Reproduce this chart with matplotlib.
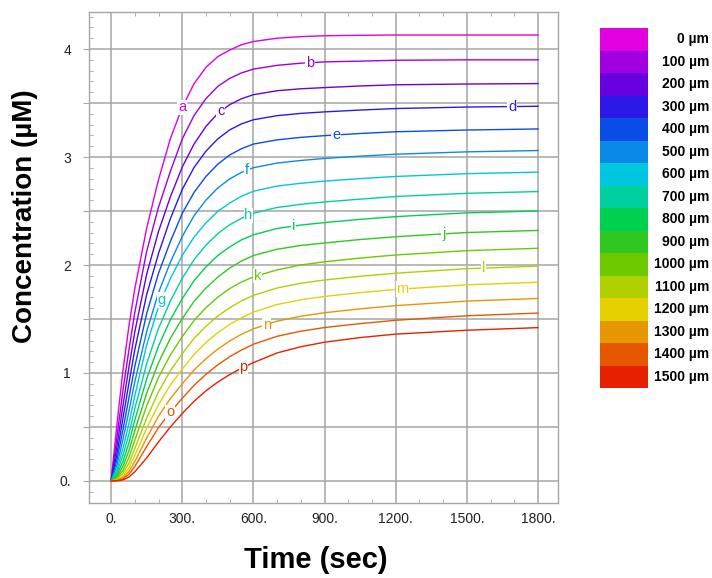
import numpy as np
import matplotlib
matplotlib.use("Agg")
import matplotlib.pyplot as plt
from matplotlib.ticker import MultipleLocator, FuncFormatter

plt.rcParams["font.family"] = ["Liberation Sans", "DejaVu Sans"]

# time points (sec)
t = [0, 25, 50, 75, 100, 150, 200, 250, 300, 350, 400, 450, 500, 550, 600,
     700, 800, 900, 1050, 1200, 1500, 1800]

# concentration (uM) at each depth
c_0    = [0, 0.53, 1.02, 1.43, 1.78, 2.34, 2.79, 3.17, 3.46, 3.68, 3.83, 3.93, 3.99, 4.04, 4.07,
          4.10, 4.115, 4.123, 4.127, 4.13, 4.13, 4.13]
c_100  = [0, 0.410, 0.839, 1.209, 1.560, 2.126, 2.535, 2.867, 3.167, 3.385, 3.541, 3.654, 3.728, 3.779, 3.814,
          3.849, 3.869, 3.881, 3.888, 3.896, 3.90, 3.90]
c_200  = [0, 0.324, 0.699, 1.049, 1.380, 1.914, 2.311, 2.631, 2.907, 3.121, 3.283, 3.404, 3.485, 3.540, 3.577,
          3.614, 3.632, 3.643, 3.658, 3.669, 3.676, 3.68]
c_300  = [0, 0.253, 0.579, 0.902, 1.215, 1.725, 2.106, 2.429, 2.700, 2.904, 3.054, 3.168, 3.251, 3.307, 3.345,
          3.383, 3.404, 3.418, 3.435, 3.449, 3.463, 3.47]
c_400  = [0, 0.196, 0.473, 0.766, 1.060, 1.549, 1.923, 2.217, 2.478, 2.673, 2.820, 2.934, 3.019, 3.077, 3.120,
          3.159, 3.182, 3.198, 3.218, 3.234, 3.250, 3.26]
c_500  = [0, 0.147, 0.383, 0.643, 0.918, 1.383, 1.744, 2.026, 2.264, 2.457, 2.601, 2.714, 2.797, 2.858, 2.901,
          2.944, 2.968, 2.987, 3.008, 3.026, 3.048, 3.06]
c_600  = [0, 0.109, 0.300, 0.529, 0.787, 1.258, 1.616, 1.873, 2.088, 2.259, 2.391, 2.497, 2.574, 2.637, 2.683,
          2.731, 2.757, 2.777, 2.800, 2.820, 2.846, 2.86]
c_700  = [0, 0.080, 0.236, 0.434, 0.670, 1.085, 1.412, 1.667, 1.876, 2.050, 2.184, 2.291, 2.372, 2.433, 2.479,
          2.533, 2.562, 2.584, 2.610, 2.634, 2.664, 2.68]
c_800  = [0, 0.058, 0.180, 0.350, 0.563, 0.945, 1.250, 1.493, 1.688, 1.855, 1.983, 2.088, 2.168, 2.233, 2.280,
          2.338, 2.370, 2.393, 2.423, 2.448, 2.483, 2.50]
c_900  = [0, 0.039, 0.135, 0.278, 0.464, 0.812, 1.095, 1.322, 1.503, 1.663, 1.786, 1.888, 1.972, 2.037, 2.088,
          2.146, 2.181, 2.204, 2.236, 2.262, 2.301, 2.32]
c_1000 = [0, 0.026, 0.097, 0.216, 0.377, 0.694, 0.959, 1.168, 1.336, 1.487, 1.605, 1.702, 1.782, 1.843, 1.890,
          1.955, 2.000, 2.030, 2.064, 2.093, 2.133, 2.155]
c_1100 = [0, 0.016, 0.070, 0.163, 0.299, 0.583, 0.826, 1.021, 1.178, 1.321, 1.433, 1.528, 1.604, 1.668, 1.719,
          1.787, 1.831, 1.861, 1.896, 1.924, 1.966, 1.99]
c_1200 = [0, 0.009, 0.048, 0.121, 0.236, 0.488, 0.708, 0.889, 1.036, 1.172, 1.282, 1.374, 1.450, 1.512, 1.564,
          1.634, 1.678, 1.709, 1.744, 1.774, 1.816, 1.84]
c_1300 = [0, 0.005, 0.030, 0.088, 0.179, 0.397, 0.600, 0.764, 0.899, 1.028, 1.132, 1.222, 1.296, 1.359, 1.409,
          1.480, 1.526, 1.558, 1.594, 1.624, 1.666, 1.69]
c_1400 = [0, 0.003, 0.019, 0.061, 0.134, 0.319, 0.494, 0.638, 0.765, 0.886, 0.987, 1.076, 1.151, 1.213, 1.266,
          1.340, 1.387, 1.421, 1.457, 1.488, 1.530, 1.555]
c_1500 = [0, 0.001, 0.010, 0.036, 0.085, 0.213, 0.362, 0.500, 0.625, 0.738, 0.835, 0.916, 0.985, 1.045, 1.096,
          1.186, 1.243, 1.285, 1.328, 1.360, 1.396, 1.42]

series = [c_0, c_100, c_200, c_300, c_400, c_500, c_600, c_700,
          c_800, c_900, c_1000, c_1100, c_1200, c_1300, c_1400, c_1500]
depths = [0, 100, 200, 300, 400, 500, 600, 700, 800, 900, 1000, 1100, 1200, 1300, 1400, 1500]
letters = list("abcdefghijklmnop")
# time at which each curve carries its letter
label_t = [300, 839, 462, 1691, 948, 572, 212, 579, 768, 1403, 617, 1569, 1229, 656, 249, 558]

colors = ["#e000e0", "#a000e0", "#6800e0", "#2c18e8", "#0a4ce6", "#0a8ae6",
          "#00c6e0", "#00d0a0", "#00d050", "#30c820", "#6ec800", "#b0d000",
          "#e6d000", "#e69600", "#e65800", "#e62000"]

fig = plt.figure(figsize=(7.12, 5.78), dpi=100)
ax = fig.add_axes([89 / 712, 1 - 503 / 578, 469 / 712, 491 / 578])

for y, col, lab, lt in zip(series, colors, letters, label_t):
    ax.plot(t, y, color=col, lw=1.0, zorder=3)
    ax.text(lt, np.interp(lt, t, y), lab, color=col, fontsize=10.5,
            ha="center", va="center", zorder=4,
            bbox=dict(facecolor="white", edgecolor="none", pad=0.5))

ax.set_xlim(-93, 1884)
ax.set_ylim(-0.204, 4.343)

ax.xaxis.set_major_locator(MultipleLocator(300))
ax.xaxis.set_minor_locator(MultipleLocator(100))
ax.yaxis.set_major_locator(MultipleLocator(0.5))
ax.yaxis.set_minor_locator(MultipleLocator(0.1))

ax.xaxis.set_major_formatter(FuncFormatter(lambda v, p: f"{int(round(v))}."))
def yfmt(v, p):
    if abs(v) < 1e-9:
        return "0."
    if abs(v - round(v)) < 1e-9:
        return f"{int(round(v))}"
    return ""
ax.yaxis.set_major_formatter(FuncFormatter(yfmt))

ax.grid(True, which="major", color="#a6a6a6", lw=1.1, zorder=1)
for s in ax.spines.values():
    s.set_color("#a6a6a6")
    s.set_linewidth(1.0)

ax.tick_params(axis="x", which="major", length=0, pad=6.5, labelsize=10, labelcolor="#222222")
ax.tick_params(axis="x", which="minor", direction="in", length=3, color="#a6a6a6", top=True)
ax.tick_params(axis="y", which="major", direction="out", length=4, color="#a6a6a6",
               labelsize=10, labelcolor="#222222", pad=9)
ax.tick_params(axis="y", which="minor", direction="in", length=3, color="#a6a6a6")

fig.text(25 / 712, 1 - 216 / 578, "Concentration (µM)", rotation=90,
         ha="center", va="center", fontsize=20, fontweight="bold")
fig.text(316 / 712, 1 - 560 / 578, "Time (sec)", ha="center", va="center",
         fontsize=21, fontweight="bold")

# colour key on the right
lax = fig.add_axes([600 / 712, 1 - 388 / 578, 48 / 712, 360 / 578])
lax.barh(range(len(depths)), 1, height=1.0, color=colors, left=0)
lax.set_xlim(0, 1)
lax.set_ylim(len(depths) - 0.5, -0.5)
lax.axis("off")
for i, d in enumerate(depths):
    yy = 1 - (28 + 360 * (i + 0.5) / len(depths)) / 578
    fig.text(709 / 712, yy, f"{d} µm", ha="right", va="center",
             fontsize=10, fontweight="bold")

fig.savefig("out.png", dpi=100)
